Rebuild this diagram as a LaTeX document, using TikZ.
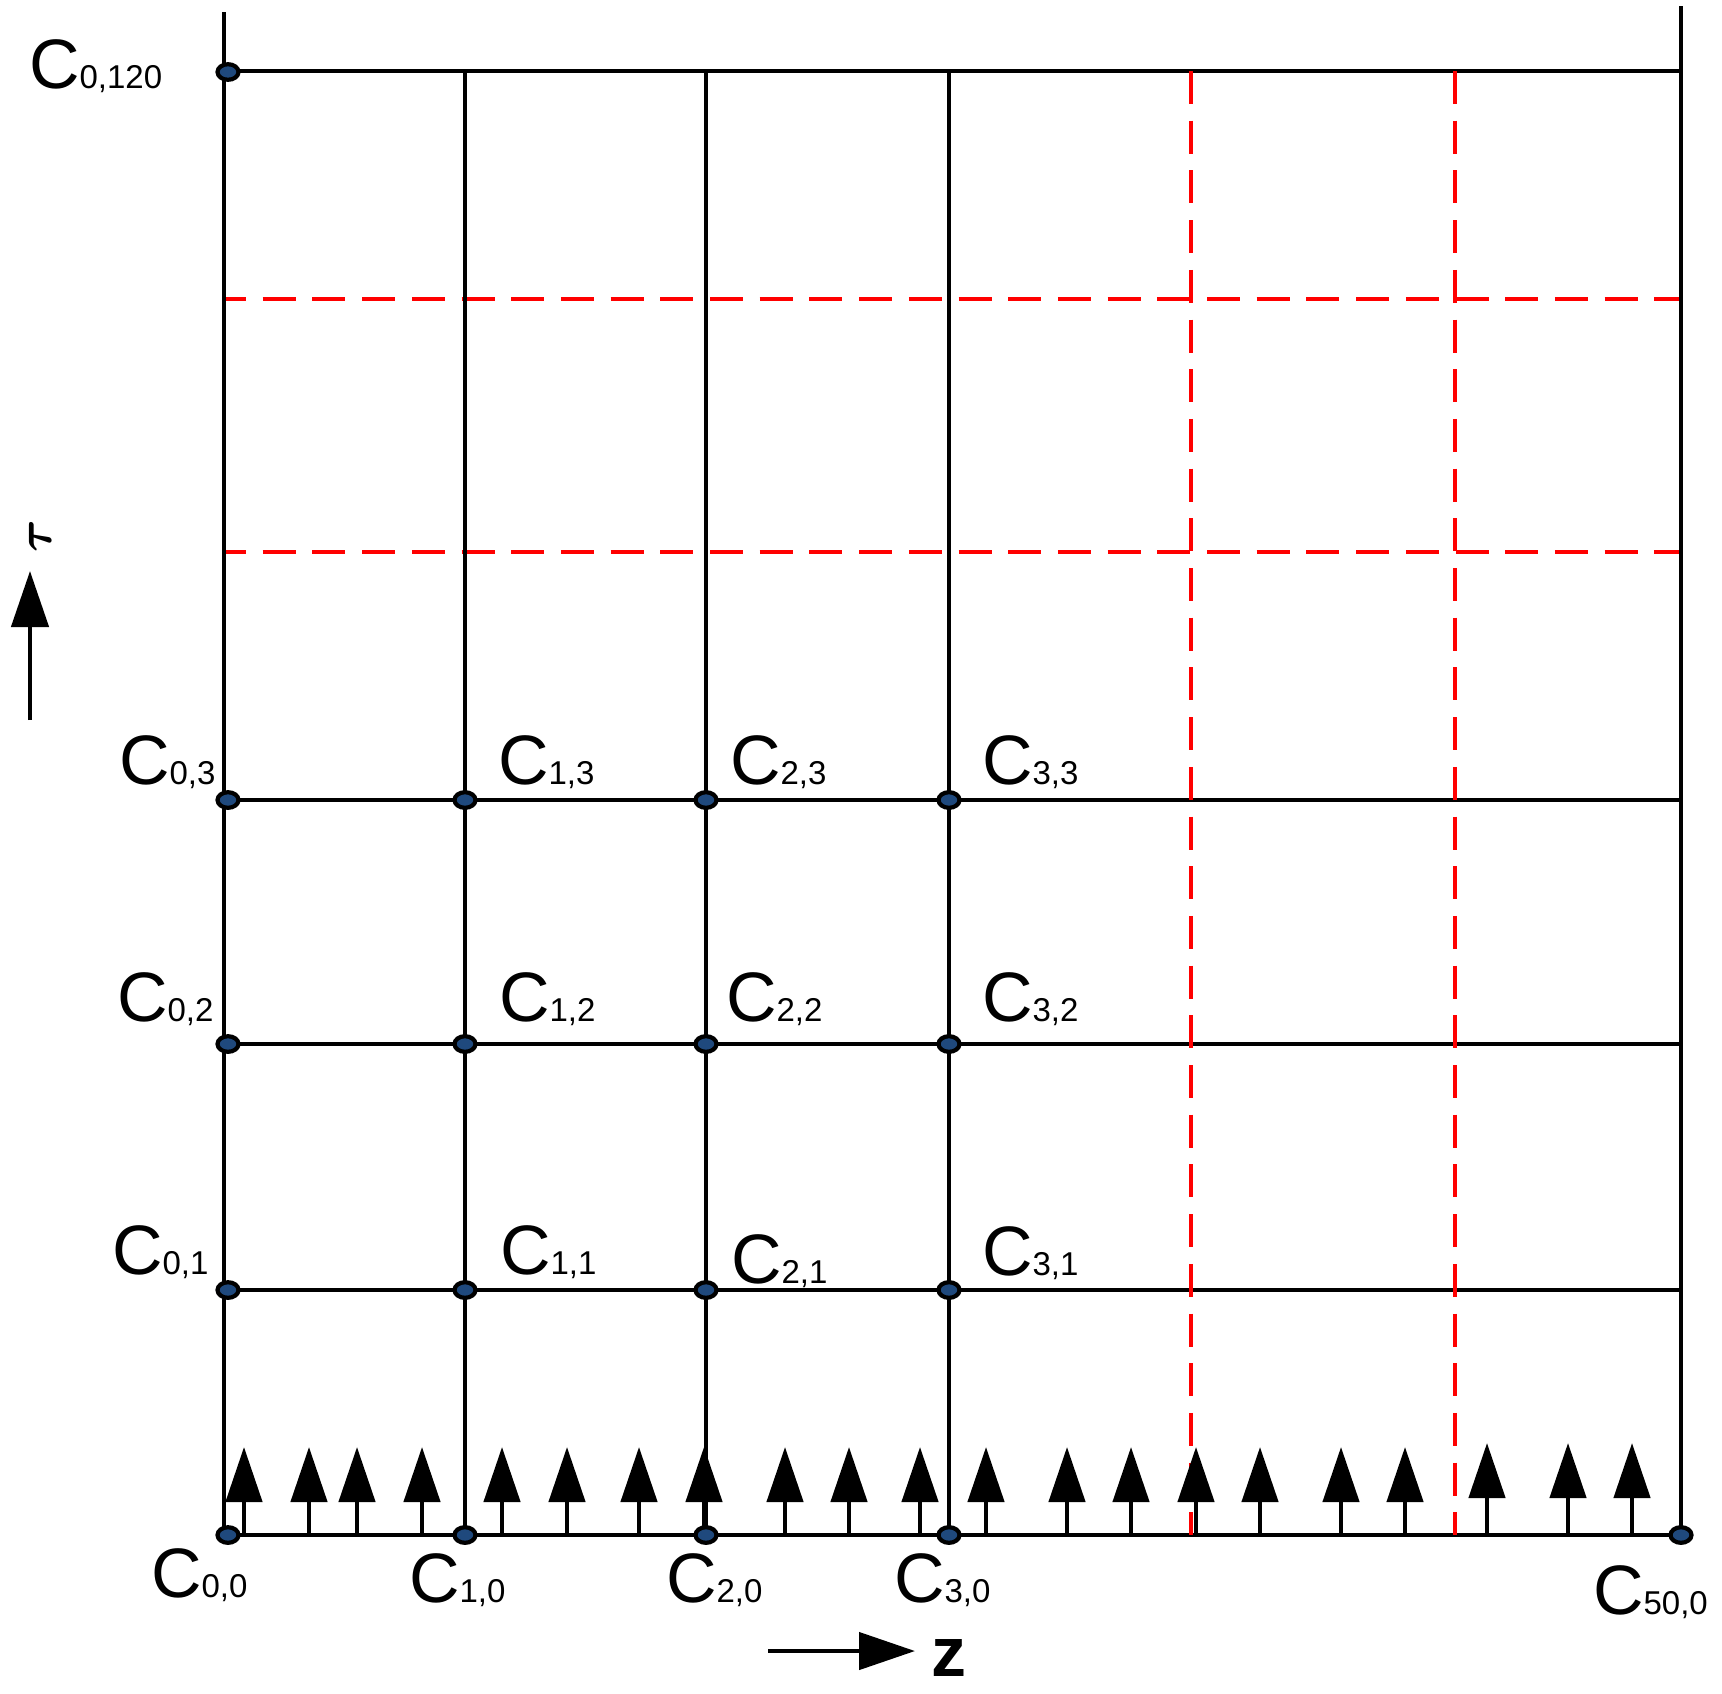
\documentclass[tikz,border=0pt]{standalone}
\usepackage{fontspec}
\usepackage{bm}
\setmainfont{Liberation Sans}
\usetikzlibrary{arrows.meta,shapes.geometric}
\definecolor{dotblue}{RGB}{31,73,125}
\definecolor{gridred}{RGB}{255,0,0}
\newcommand{\clab}[1]{{\fontsize{35}{35}\selectfont C}{\fontsize{16.5}{17}\selectfont #1}}
\begin{document}
\begin{tikzpicture}[x=0.5pt,y=-0.5pt,
  gridline/.style={line width=2.1pt, black},
  redline/.style={line width=2.45pt, gridred, dash pattern=on 16.5pt off 8.35pt},
  gdot/.style={ellipse, draw=black, line width=2.1pt, fill=dotblue, minimum width=10.5pt, minimum height=7.8pt, inner sep=0pt},
  smallarrow/.style={line width=2.25pt, -{Triangle[length=27.5pt,width=18pt]}},
  axisarrow/.style={line width=2.25pt, -{Triangle[length=28pt,width=18.5pt]}},
  clabel/.style={anchor=base west, inner sep=0pt, outer sep=0pt}]
\useasboundingbox (0,0) rectangle (1722,1693);
% grid coordinates
\coordinate (L0) at (224,12);
\coordinate (R0) at (1681,6);
\foreach \y/\n in {71/t,800/r3,1044/r2,1290/r1,1535/r0}{
  \coordinate (\n L) at (224,\y);
  \coordinate (\n R) at (1681,\y);
}
% black horizontals
\foreach \n in {t,r3,r2,r1,r0}{ \draw[gridline] (\n L) -- (\n R); }
% red dashed horizontals
\coordinate (h1L) at (224,299); \coordinate (h1R) at (1681,299);
\coordinate (h2L) at (224,552); \coordinate (h2R) at (1681,552);
\draw[redline, dash phase=5.5pt] (h1L) -- (h1R);
\draw[redline, dash phase=5.5pt] (h2L) -- (h2R);
% red dashed verticals
\coordinate (v4T) at (1191,71); \coordinate (v4B) at (1191,1535);
\coordinate (v5T) at (1455,71); \coordinate (v5B) at (1455,1535);
\draw[redline] (v4T) -- (v4B);
\draw[redline] (v5T) -- (v5B);
% black verticals
\draw[gridline] (L0) -- (r0L);
\foreach \x in {465,706,949}{ \draw[gridline] (\x,71) -- (\x,1535); }
\draw[gridline] (R0) -- (r0R);
% small arrows
\foreach \x in {244,309,357,422,502,567,639,704,785,849,920,986,1067,1131,1196,1260,1341,1405}{
  \draw[smallarrow] (\x,1535) -- (\x,1447);
}
\foreach \x in {1487,1568,1632}{
  \draw[smallarrow] (\x,1535) -- (\x,1443);
}
% dots
\node[gdot] (d0t) at (228,72) {};
\foreach \y/\j in {800/3,1044/2,1290/1,1535/0}{
  \node[gdot] (d0\j) at (228,\y) {};
  \node[gdot] (d1\j) at (465,\y) {};
  \node[gdot] (d2\j) at (706,\y) {};
  \node[gdot] (d3\j) at (949,\y) {};
}
\node[gdot] (d50) at (1681,1535) {};
% labels
\node[clabel] (c0t) at (29,88) {\clab{0,120}};
\node[clabel] (c03) at (119,784) {\clab{0,3}};
\node[clabel] (c13) at (498,784) {\clab{1,3}};
\node[clabel] (c23) at (730,784) {\clab{2,3}};
\node[clabel] (c33) at (982,784) {\clab{3,3}};
\node[clabel] (c02) at (117,1021) {\clab{0,2}};
\node[clabel] (c12) at (499,1021) {\clab{1,2}};
\node[clabel] (c22) at (726,1021) {\clab{2,2}};
\node[clabel] (c32) at (982,1021) {\clab{3,2}};
\node[clabel] (c01) at (112,1274) {\clab{0,1}};
\node[clabel] (c11) at (500,1274) {\clab{1,1}};
\node[clabel] (c21) at (731,1283) {\clab{2,1}};
\node[clabel] (c31) at (982,1275) {\clab{3,1}};
\node[clabel] (c00) at (151,1597) {\clab{0,0}};
\node[clabel] (c10) at (409,1602) {\clab{1,0}};
\node[clabel] (c20) at (666,1602) {\clab{2,0}};
\node[clabel] (c30) at (894,1602) {\clab{3,0}};
\node[clabel] (c500) at (1593,1614) {\clab{50,0}};
% axes
\coordinate (tauS) at (30,720); \coordinate (tauE) at (30,571);
\draw[axisarrow] (tauS) -- (tauE);
\node[rotate=90, inner sep=0pt] (tau) at (40,536) {\fontsize{40}{40}\selectfont$\bm{\tau}$};
\coordinate (zS) at (768,1651); \coordinate (zE) at (915,1651);
\draw[axisarrow] (zS) -- (zE);
\node[clabel] (zlab) at (931,1676) {\fontsize{35}{35}\selectfont\bfseries z};
\end{tikzpicture}
\end{document}
